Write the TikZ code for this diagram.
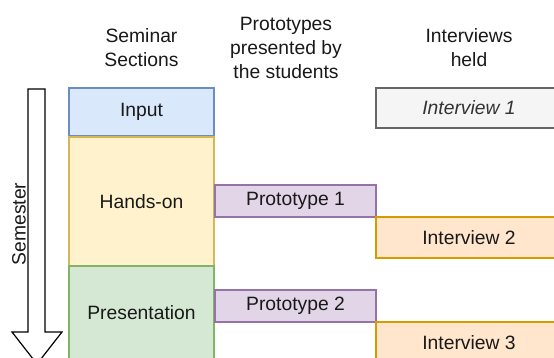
\documentclass[tikz,border=0pt]{standalone}
\usepackage{fontspec}
\setmainfont{Liberation Sans}
\begin{document}
\begin{tikzpicture}[x=1pt,y=-1pt,
  box/.style={draw,line width=1.2pt,inner sep=0pt,font=\fontsize{19.3}{23}\selectfont,text=black!90},
  hdr/.style={align=center,font=\fontsize{19.3}{24}\selectfont,text=black!90},
  bluebox/.style={box,fill={rgb,255:red,218;green,232;blue,252},draw={rgb,255:red,108;green,142;blue,191}},
  yelbox/.style={box,fill={rgb,255:red,255;green,242;blue,204},draw={rgb,255:red,214;green,182;blue,86}},
  grnbox/.style={box,fill={rgb,255:red,213;green,232;blue,212},draw={rgb,255:red,130;green,179;blue,102}},
  purbox/.style={box,fill={rgb,255:red,225;green,213;blue,231},draw={rgb,255:red,150;green,115;blue,166}},
  orabox/.style={box,fill={rgb,255:red,255;green,230;blue,204},draw={rgb,255:red,215;green,155;blue,0}},
  graybox/.style={box,fill={rgb,255:red,245;green,245;blue,245},draw={rgb,255:red,102;green,102;blue,102},text={rgb,255:red,51;green,51;blue,51},font=\fontsize{19.3}{23}\selectfont\itshape}
]
\useasboundingbox (0,0) rectangle (554,358);
\clip (0,0) rectangle (554,358);
\fill[white] (0,0) rectangle (554,358);
% headers
\node[hdr] (h1) at (141.5,48) {Seminar\\Sections};
\node[hdr] (h2) at (286,48) {Prototypes\\presented by\\the students};
\node[hdr] (h3) at (469,48) {Interviews\\held};
% semester arrow
\draw[line width=1.2pt,fill=white] (28,89) -- (45,89) -- (45,332) -- (62,332) -- (37,364) -- (12,332) -- (28,332) -- cycle;
\node[rotate=90,font=\fontsize{19.3}{23}\selectfont,text=black!90] (sem) at (19,224) {Semester};
% seminar sections
\node[bluebox,minimum width=145,minimum height=48] (input) at (141.5,112) {Input};
\node[yelbox,minimum width=145,minimum height=129] (hands) at (141.5,201.5) {Hands-on};
\node[grnbox,minimum width=145,minimum height=94] (pres) at (141.5,313) {Presentation};
% prototypes
\node[purbox,minimum width=161,minimum height=32] (p1) at (295.5,201) {Prototype 1};
\node[purbox,minimum width=161,minimum height=32] (p2) at (295.5,306) {Prototype 2};
% interviews
\node[graybox,minimum width=186,minimum height=40] (i1) at (469,108) {Interview 1};
\node[orabox,minimum width=186,minimum height=41] (i2) at (469,237.5) {Interview 2};
\node[orabox,minimum width=186,minimum height=41] (i3) at (469,342.5) {Interview 3};
\end{tikzpicture}
\end{document}
